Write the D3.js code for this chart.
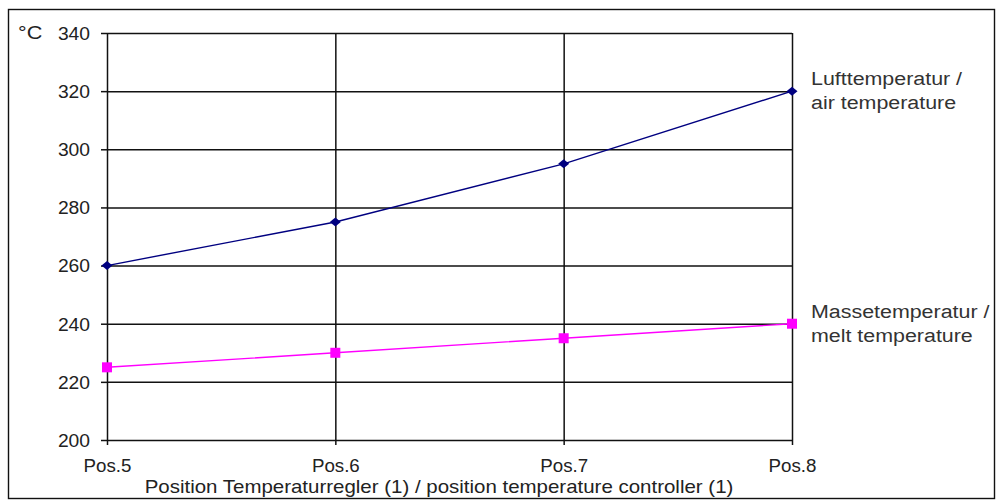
<!DOCTYPE html>
<html>
<head>
<meta charset="utf-8">
<script src="https://cdn.jsdelivr.net/npm/d3@7"></script>
<style>
  body { margin: 0; background: #fff; }
  svg { display: block; font-family: "Liberation Sans", Arial, sans-serif; }
</style>
</head>
<body>
<div id="chart"></div>
<script>
var width = 996,
    height = 500;

// data
var positions = ["Pos.5", "Pos.6", "Pos.7", "Pos.8"];
var airTemp = [260, 275, 295, 320];
var meltTemp = [225, 230, 235, 240];
var yTicks = [200, 220, 240, 260, 280, 300, 320, 340];
var seriesNames = [["Lufttemperatur /", "air temperature"], ["Massetemperatur /", "melt temperature"]];
var axisTitle = "Position Temperaturregler (1) / position temperature controller (1)";

var x = d3.scalePoint().domain(positions).range([107, 792]);
var y = d3.scaleLinear().domain([200, 340]).range([440, 33]);

var svg = d3.select("#chart").append("svg")
    .attr("width", width)
    .attr("height", height);

// outer frame
svg.append("rect")
    .attr("x", 8.5).attr("y", 9.5)
    .attr("width", 986).attr("height", 489)
    .attr("fill", "none")
    .attr("stroke", "#111")
    .attr("stroke-width", 1.4);

// horizontal grid + y ticks
svg.append("g")
    .attr("transform", "translate(" + x.range()[0] + ",0)")
    .call(d3.axisLeft(y).tickValues(yTicks).tickSize(-(x.range()[1] - x.range()[0])).tickSizeOuter(0))
    .call(function(g) {
        g.select(".domain").remove();
        g.selectAll(".tick line").attr("stroke", "#111").attr("stroke-width", 1.5);
        g.selectAll(".tick").append("line")
            .attr("x1", -6).attr("x2", 0)
            .attr("stroke", "#111").attr("stroke-width", 1.5);
        g.selectAll(".tick text")
            .attr("fill", "#222")
            .style("font-size", "18px")
            .attr("x", null)
            .attr("dy", "0.35em")
            .attr("transform", "translate(-17,0) scale(1.07,1)");
    });

// vertical grid + x ticks
svg.append("g")
    .attr("transform", "translate(0," + y(200) + ")")
    .call(d3.axisBottom(x).tickSize(-(y(200) - y(340))).tickSizeOuter(0))
    .call(function(g) {
        g.select(".domain").remove();
        g.selectAll(".tick line").attr("stroke", "#111").attr("stroke-width", 1.5);
        g.selectAll(".tick").append("line")
            .attr("y1", 0).attr("y2", 5)
            .attr("stroke", "#111").attr("stroke-width", 1.5);
        g.selectAll(".tick text")
            .attr("fill", "#222")
            .style("font-size", "18px")
            .attr("y", null)
            .attr("dy", null)
            .attr("transform", "translate(0,32) scale(1.04,1)");
    });

// unit label
svg.append("text")
    .attr("transform", "translate(18,39) scale(1.2,1)")
    .attr("fill", "#222")
    .style("font-size", "18px")
    .text("°C");

// axis title
svg.append("text")
    .attr("transform", "translate(439,493) scale(1.17,1)")
    .attr("text-anchor", "middle")
    .attr("fill", "#222")
    .style("font-size", "17.5px")
    .text(axisTitle);

var line = d3.line()
    .x(function(d, i) { return x(positions[i]); })
    .y(function(d) { return y(d); });

// air temperature series
svg.append("path")
    .datum(airTemp)
    .attr("d", line)
    .attr("fill", "none")
    .attr("stroke", "#000080")
    .attr("stroke-width", 1.4);

svg.selectAll(".air")
    .data(airTemp)
    .enter().append("path")
    .attr("class", "air")
    .attr("transform", function(d, i) { return "translate(" + x(positions[i]) + "," + y(d) + ")"; })
    .attr("d", "M-5.5,0L0,-4.5L5.5,0L0,4.5Z")
    .attr("fill", "#000080");

// melt temperature series
svg.append("path")
    .datum(meltTemp)
    .attr("d", line)
    .attr("fill", "none")
    .attr("stroke", "#ff00ff")
    .attr("stroke-width", 1.4);

svg.selectAll(".melt")
    .data(meltTemp)
    .enter().append("rect")
    .attr("class", "melt")
    .attr("x", function(d, i) { return x(positions[i]) - 5; })
    .attr("y", function(d) { return y(d) - 5; })
    .attr("width", 10).attr("height", 10)
    .attr("fill", "#ff00ff");

// series labels next to the last point
var lastVals = [airTemp[airTemp.length - 1], meltTemp[meltTemp.length - 1]];
seriesNames.forEach(function(lines, k) {
    var t = svg.append("text")
        .attr("fill", "#333")
        .style("font-size", "18px")
        .attr("transform", "translate(811," + (y(lastVals[k]) - 6) + ") scale(1.19,1)");
    lines.forEach(function(s, j) {
        t.append("tspan").attr("x", 0).attr("y", j * 24).text(s);
    });
});
</script>
</body>
</html>
